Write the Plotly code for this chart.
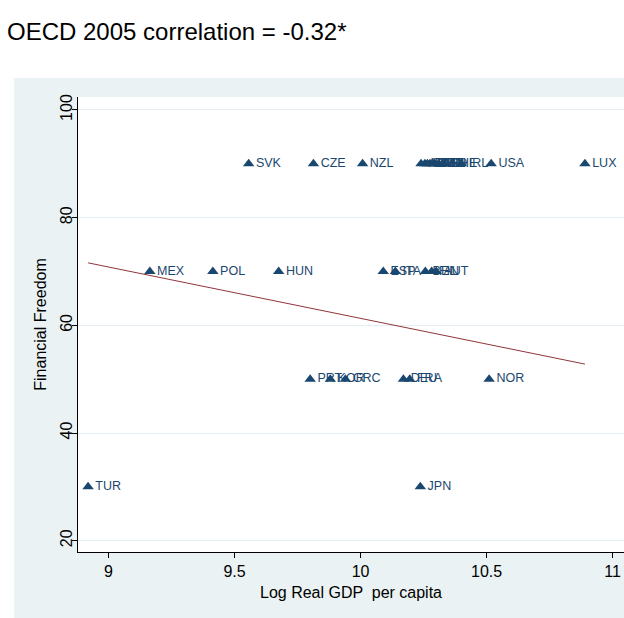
import numpy as np
import plotly.graph_objects as go

countries = ["TUR", "MEX", "POL", "SVK", "HUN", "CZE", "PRT", "KOR", "GRC", "NZL",
             "ESP", "ITA", "DEU", "FRA", "JPN", "BEL", "FIN", "AUT",
             "AUS", "SWE", "DNK", "GBR", "CAN", "NLD", "ISL", "CHE", "IRL",
             "NOR", "USA", "LUX"]
log_gdp = [8.919, 9.164, 9.414, 9.556, 9.675, 9.813, 9.800, 9.880, 9.940, 10.008,
           10.090, 10.138, 10.170, 10.195, 10.237, 10.257, 10.282, 10.300,
           10.240, 10.255, 10.265, 10.275, 10.285, 10.295, 10.310, 10.330, 10.400,
           10.510, 10.518, 10.890]
fin_freedom = [30, 70, 70, 90, 70, 90, 50, 50, 50, 90,
               70, 70, 50, 50, 30, 70, 70, 70,
               90, 90, 90, 90, 90, 90, 90, 90, 90,
               50, 90, 90]

# fitted line values read at the smallest and largest GDP
fit_values = [71.6, 52.8]

x_ticks = [9, 9.5, 10, 10.5, 11]
y_ticks = [20, 40, 60, 80, 100]

navy = "#1a476f"
maroon = "#90353b"
bg = "#eaf2f3"

fit_x = [min(log_gdp), max(log_gdp)]

fig = go.Figure()
fig.add_trace(go.Scatter(
    x=log_gdp, y=fin_freedom, mode="markers+text", text=countries,
    textposition="middle right",
    textfont=dict(family="Liberation Sans, Arial", size=12.5, color=navy),
    marker=dict(symbol="triangle-up", size=10, color=navy),
    cliponaxis=False, showlegend=False, hoverinfo="skip"))
fig.add_trace(go.Scatter(
    x=fit_x, y=fit_values, mode="lines", line=dict(color=maroon, width=1),
    showlegend=False, hoverinfo="skip"))

# outer light background region
fig.add_shape(type="rect", xref="paper", yref="paper",
              x0=-0.117, x1=1.05, y0=-0.15, y1=1.042,
              fillcolor=bg, line=dict(width=0), layer="below")
fig.add_shape(type="rect", xref="paper", yref="paper",
              x0=0, x1=1.05, y0=0, y1=1,
              fillcolor="white", line=dict(width=0), layer="below")

fig.update_layout(
    width=624, height=618,
    margin=dict(l=78, r=0, t=97, b=66),
    paper_bgcolor="white", plot_bgcolor="rgba(0,0,0,0)",
    font=dict(family="Liberation Sans, Arial", color="#000000"),
    annotations=[dict(text="OECD 2005 correlation = -0.32*", xref="paper", yref="paper",
                      x=-0.133, y=1.143, xanchor="left", yanchor="middle",
                      showarrow=False, font=dict(size=24, color="#000000"))],
)
fig.update_xaxes(
    range=[8.879, 11.045], tickvals=x_ticks, ticktext=[str(v) for v in x_ticks],
    ticks="outside", ticklen=5, tickcolor="#000000", tickfont=dict(size=16),
    showline=True, linecolor="#000000", linewidth=1, showgrid=False, zeroline=False,
    title=dict(text="Log Real GDP  per capita", font=dict(size=16), standoff=7))
fig.update_yaxes(
    range=[17.9, 102.4], tickvals=y_ticks, ticktext=[str(v) for v in y_ticks],
    tickangle=-90, ticks="outside", ticklen=5, tickcolor="#000000", tickfont=dict(size=16),
    ticklabelstandoff=-6,
    showline=True, linecolor="#000000", linewidth=1,
    showgrid=True, gridcolor="#e4edf1", gridwidth=1, zeroline=False,
    title=dict(text="Financial Freedom", font=dict(size=16), standoff=6))

fig.write_html("out.html")
